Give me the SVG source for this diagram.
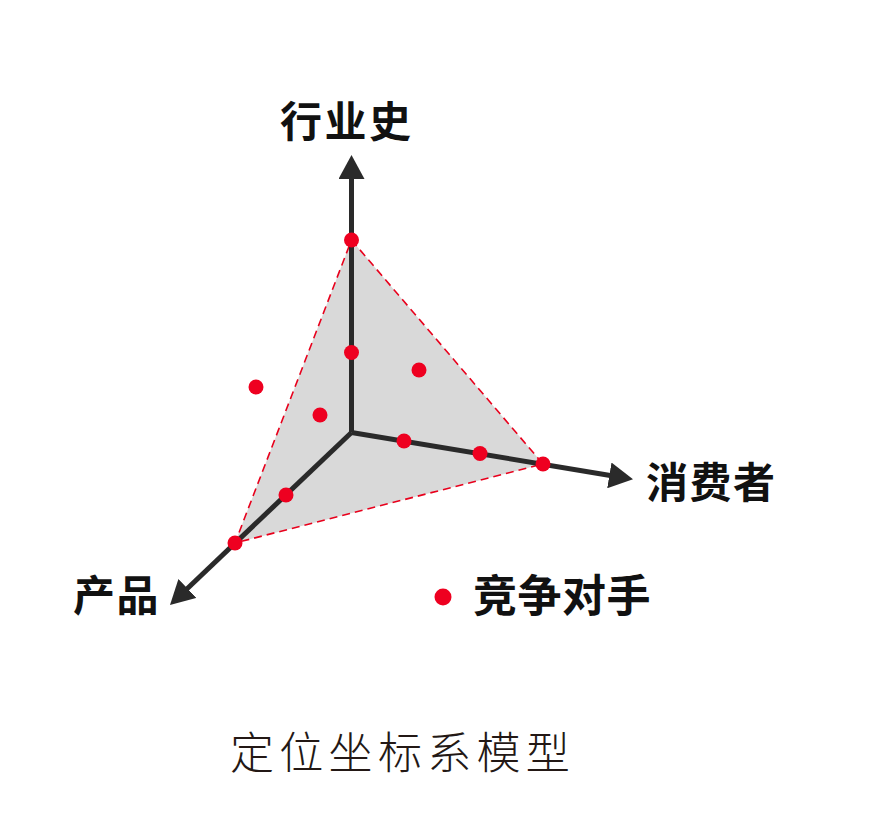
<svg xmlns="http://www.w3.org/2000/svg" width="870" height="820" viewBox="0 0 870 820">
<style>
.axis{stroke:#2a2a2a;stroke-width:5;fill:none;marker-end:url(#arr)}
.plane{fill:#d9d9d9;stroke:#e8001c;stroke-width:1.6;stroke-dasharray:8 5}
.dot{fill:#ee0020}
.lbl{font-family:"Noto Sans CJK SC","Noto Sans",sans-serif;font-weight:700;font-size:42px;letter-spacing:1.5px;fill:#111}
.title{font-family:"Noto Sans CJK SC","Noto Sans",sans-serif;font-weight:300;font-size:44px;letter-spacing:5.3px;fill:#231815}
</style>
<defs>
<marker id="arr" markerUnits="userSpaceOnUse" viewBox="0 0 24 26" refX="4" refY="13" markerWidth="24" markerHeight="26" orient="auto">
<path d="M0,0 L24,13 L0,26 Z" fill="#2a2a2a"/>
</marker>
</defs>
<rect width="870" height="820" fill="#fff"/>
<g id="plane">
<polygon class="plane" points="351.5,240 543,464 235,543"/>
</g>
<g id="connectors">
<line class="axis" x1="351.5" y1="432.5" x2="351.5" y2="175"/>
<line class="axis" x1="351.5" y1="432.5" x2="613.3" y2="476"/>
<line class="axis" x1="351.5" y1="432.5" x2="184.5" y2="591.2"/>
</g>
<g id="points">
<circle class="dot" cx="351.5" cy="240" r="7.5"/>
<circle class="dot" cx="351.5" cy="352.5" r="7.5"/>
<circle class="dot" cx="419" cy="370" r="7.5"/>
<circle class="dot" cx="256" cy="387" r="7.5"/>
<circle class="dot" cx="320" cy="415" r="7.5"/>
<circle class="dot" cx="404" cy="441" r="7.5"/>
<circle class="dot" cx="480" cy="453.5" r="7.5"/>
<circle class="dot" cx="543" cy="464" r="7.5"/>
<circle class="dot" cx="286" cy="495" r="7.5"/>
<circle class="dot" cx="235" cy="543" r="7.5"/>
</g>
<g id="label-industry"><text class="lbl" x="280" y="137" style="letter-spacing:2.5px">行业史</text></g>
<g id="label-consumer"><text class="lbl" x="646" y="498">消费者</text></g>
<g id="label-product"><text class="lbl" x="73" y="611">产品</text></g>
<g id="legend">
<circle class="dot" cx="443" cy="597" r="8.5"/>
<text class="lbl" x="473" y="612" style="font-size:44px;letter-spacing:0.5px">竞争对手</text>
</g>
<g id="title"><text class="title" x="230" y="769">定位坐标系模型</text></g>
</svg>
